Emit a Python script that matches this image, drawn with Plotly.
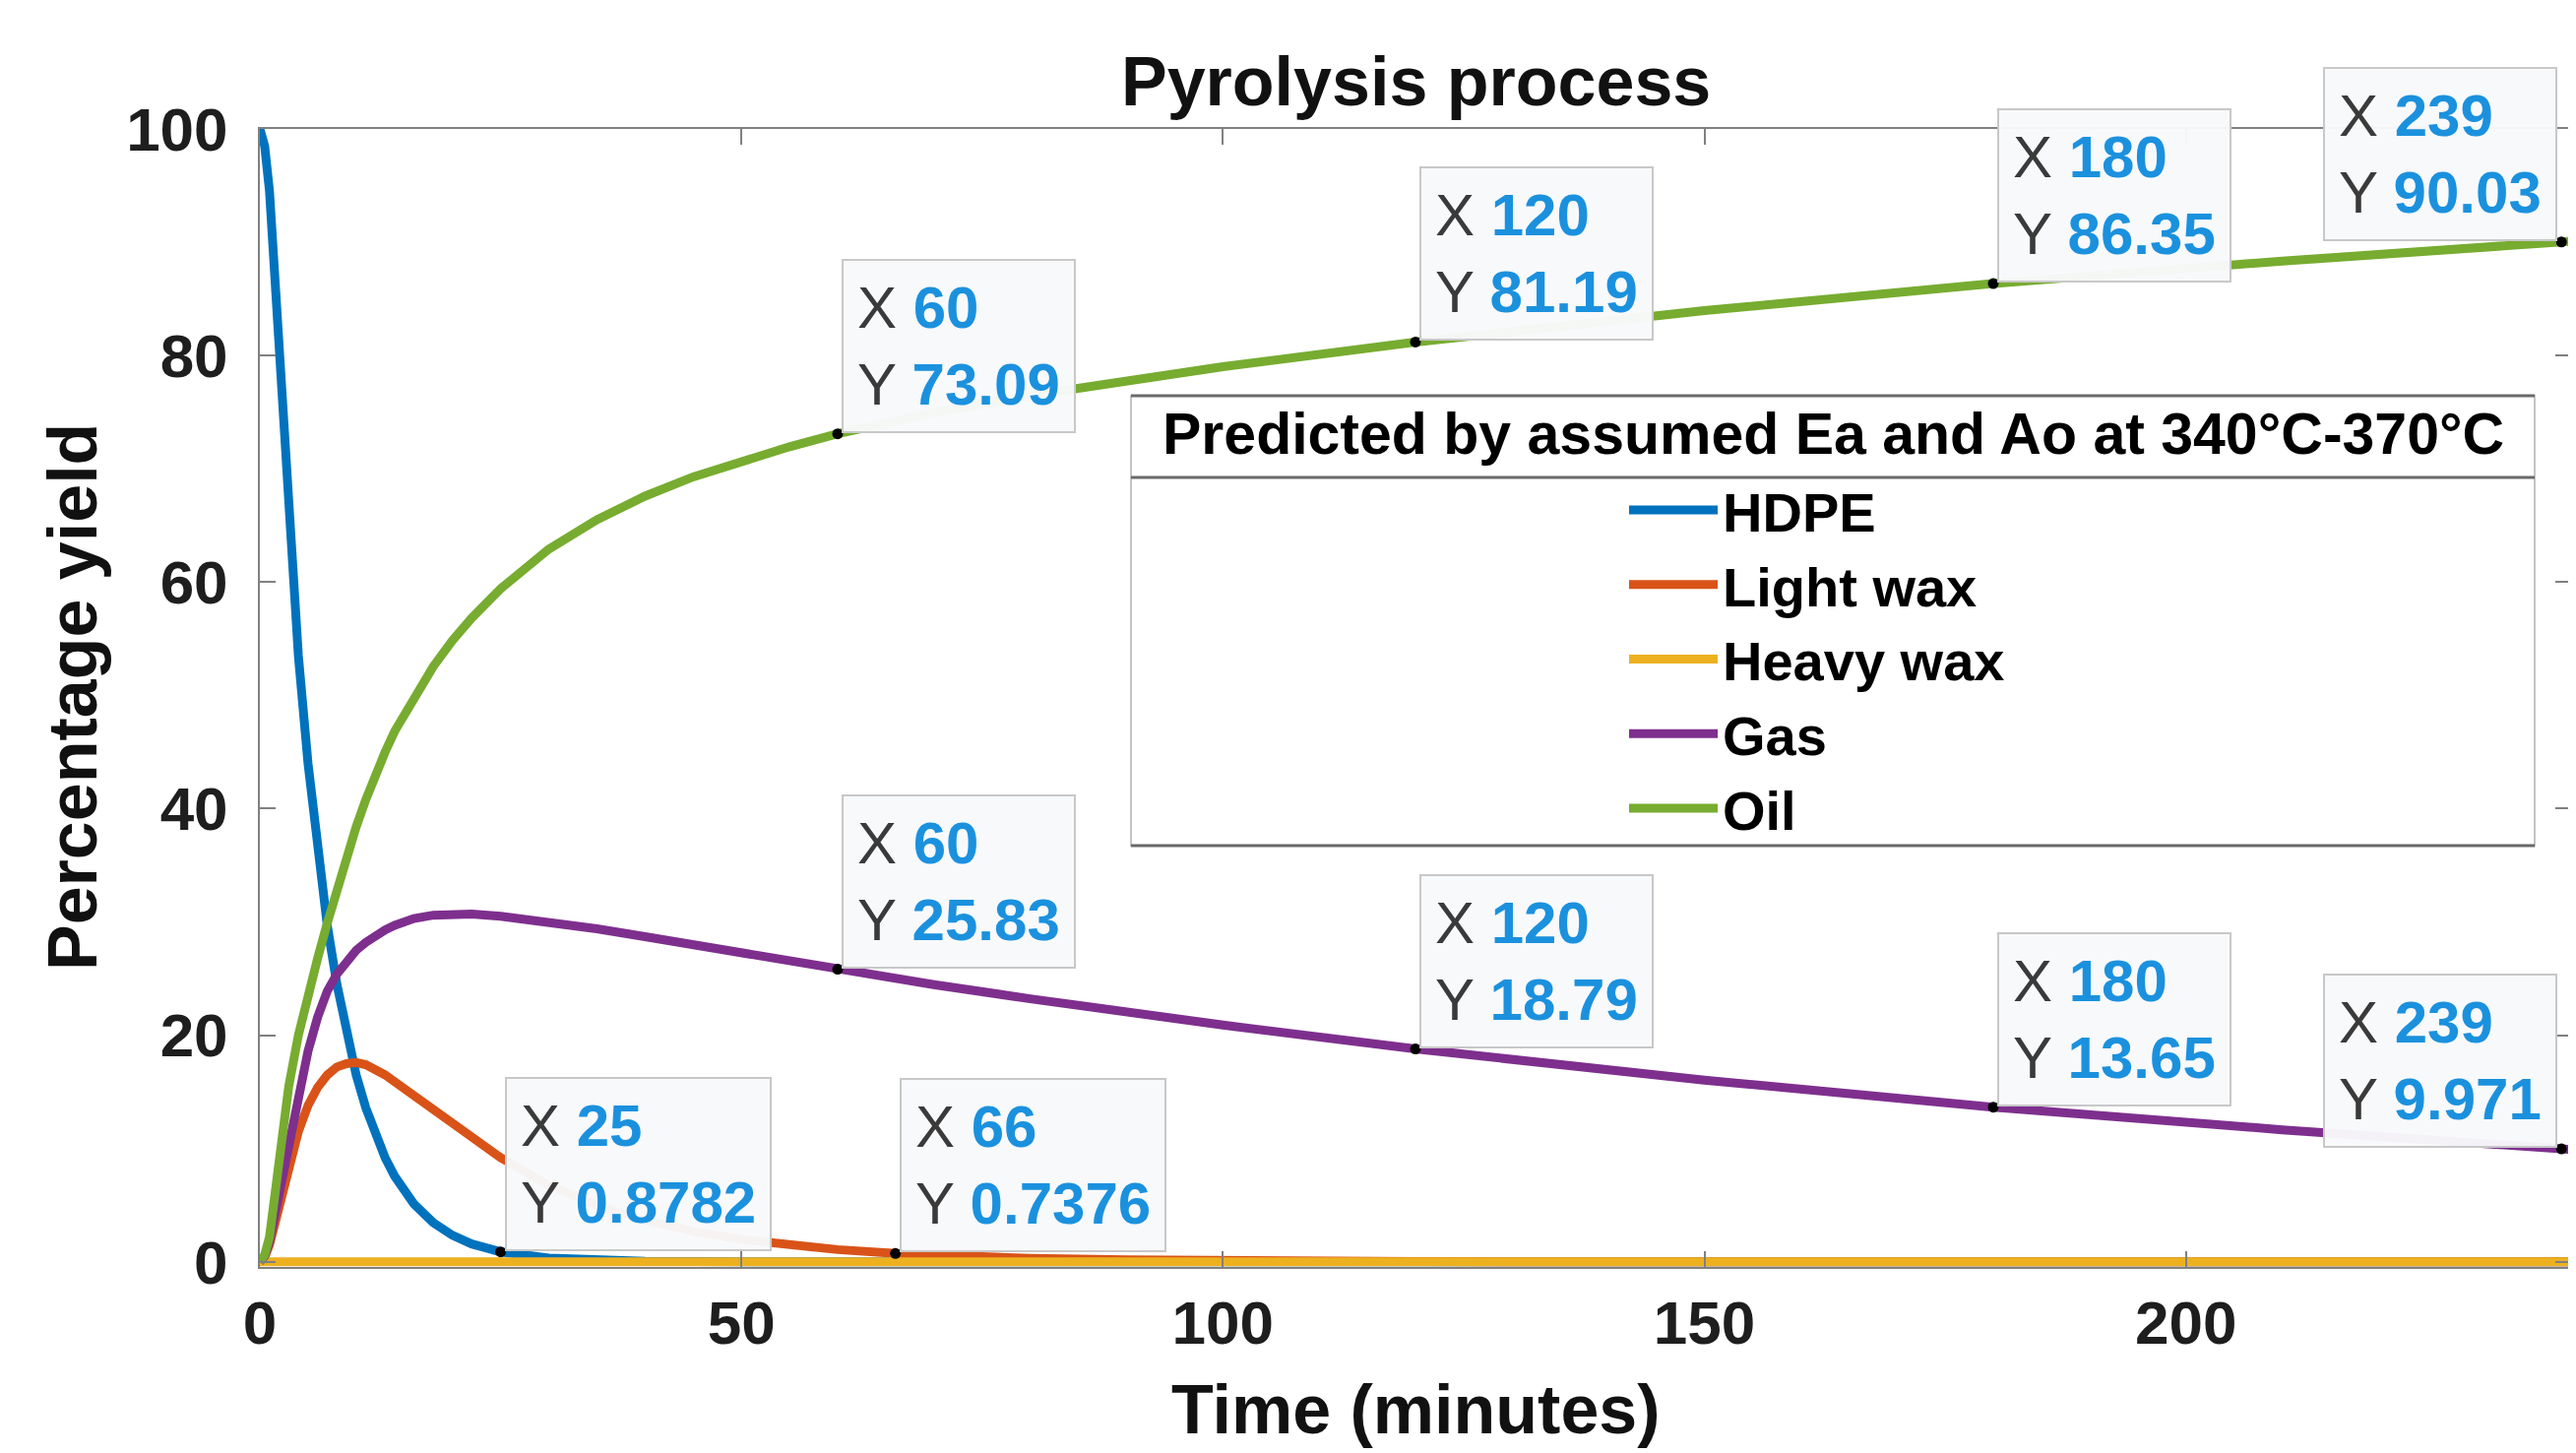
import plotly.graph_objects as go

# ---------------- data ----------------
time_min = [0, 0.5, 1, 1.5, 2, 3, 4, 5, 6, 7, 8, 9, 10, 11, 12, 13, 14, 16, 18, 20, 22, 25,
            30, 35, 40, 45, 50, 55, 60, 66, 70, 80, 90, 100, 120, 150, 180, 210, 239, 240]

hdpe = [100, 98.5, 94.5, 87.5, 79.5, 65.0, 53.5, 44.0, 36.2, 29.7, 24.5, 20.1, 16.5, 13.6,
        11.2, 9.2, 7.56, 5.11, 3.46, 2.34, 1.58, 0.8782,
        0.331, 0.124, 0.047, 0.018, 0.007, 0.003, 0, 0, 0, 0, 0, 0, 0, 0, 0, 0, 0, 0]

light_wax = [0, 0.4, 1.5, 3.2, 5.0, 8.7, 11.5, 13.8, 15.4, 16.5, 17.2, 17.5, 17.6, 17.4,
             17.0, 16.5, 15.9, 14.7, 13.4, 12.1, 10.9, 9.2,
             6.76, 4.98, 3.66, 2.69, 1.98, 1.45, 1.08, 0.7376, 0.578, 0.31, 0.17, 0.091,
             0.02, 0.004, 0.001, 0, 0, 0]

heavy_wax = [0] * len(time_min)

gas = [0, 0.5, 1.8, 3.9, 6.0, 10.8, 15.0, 18.6, 21.6, 23.9, 25.4, 26.6, 27.5, 28.2,
       28.8, 29.3, 29.7, 30.3, 30.6, 30.7, 30.7, 30.5,
       30.0, 29.4, 28.7, 28.0, 27.3, 26.6, 25.83, 24.98, 24.47, 23.22, 22.04, 20.90,
       18.79, 16.04, 13.65, 11.66, 9.971, 9.92]

oil = [0, 0.6, 2.2, 5.4, 9.5, 15.5, 20.0, 23.6, 26.8, 29.9, 32.9, 35.8, 38.4, 40.8,
       43.0, 45.0, 46.84, 49.89, 52.54, 54.86, 56.82, 59.42,
       62.91, 65.50, 67.59, 69.29, 70.71, 71.95, 73.09, 74.28, 74.95, 76.47, 77.79, 79.01,
       81.19, 83.96, 86.35, 88.34, 90.03, 90.08]

series_names = ["HDPE", "Light wax", "Heavy wax", "Gas", "Oil"]
series_values = [hdpe, light_wax, heavy_wax, gas, oil]
series_colors = ["#0072BD", "#D95319", "#EDB120", "#7E2F8E", "#77AC30"]

# data tips: (series, time)
tip_series = ["Oil", "Oil", "Oil", "Oil", "Gas", "Gas", "Gas", "Gas", "HDPE", "Light wax"]
tip_times = [60, 120, 180, 239, 60, 120, 180, 239, 25, 66]

x_ticks = [0, 50, 100, 150, 200]
y_ticks = [0, 20, 40, 60, 80, 100]

chart_title = "Pyrolysis process"
x_title = "Time (minutes)"
y_title = "Percentage yield"
legend_title = "Predicted by assumed Ea and Ao at 340°C-370°C"

# ---------------- layout geometry ----------------
W, H = 2617, 1476
L_PX, R_PX, T_PX, B_PX = 256, 2604, 123, 1279
PW, PH = R_PX - L_PX, B_PX - T_PX


def px_x(px):
    return (px - L_PX) / PW


def px_y(py):
    return (B_PX - py) / PH


FONT = "Liberation Sans, Arial, Helvetica, sans-serif"
AXIS_GRAY = "#808080"

fig = go.Figure()

for name, vals, col in zip(series_names, series_values, series_colors):
    fig.add_trace(go.Scatter(x=time_min, y=vals, mode="lines", name=name,
                             line=dict(color=col, width=9), hoverinfo="skip"))

# data tip markers
lookup = dict(zip(series_names, series_values))
tip_x = []
tip_y = []
for s, t in zip(tip_series, tip_times):
    tip_x.append(t)
    tip_y.append(lookup[s][time_min.index(t)])

fig.add_trace(go.Scatter(x=tip_x, y=tip_y, mode="markers", showlegend=False,
                         marker=dict(color="black", size=11), cliponaxis=False,
                         hoverinfo="skip"))

annotations = []
for x, y in zip(tip_x, tip_y):
    txt = ("<span style='color:#3a3a3a'>X </span><b><span style='color:#1b91de'>%s</span></b>"
           "<br><span style='color:#3a3a3a'>Y </span><b><span style='color:#1b91de'>%s</span></b>"
           % (format(x, "g"), format(y, ".4g")))
    right = x >= 230
    annotations.append(dict(
        x=x, y=y, xref="x", yref="y", text=txt, showarrow=False, align="left",
        xanchor="right" if right else "left", yanchor="bottom",
        xshift=-4 if right else 4, yshift=1,
        font=dict(family=FONT, size=60, color="#3a3a3a"),
        bgcolor="rgba(248,249,251,0.97)", bordercolor="#c8c8c8", borderwidth=2,
        borderpad=14))

# titles
annotations.append(dict(text="<b>%s</b>" % chart_title, x=0.5, y=px_y(75), xref="paper",
                        yref="paper", showarrow=False, xanchor="center", yanchor="middle",
                        font=dict(family=FONT, size=70, color="#111111")))
annotations.append(dict(text="<b>%s</b>" % x_title, x=0.5, y=px_y(1424), xref="paper",
                        yref="paper", showarrow=False, xanchor="center", yanchor="middle",
                        font=dict(family=FONT, size=70, color="#111111")))
annotations.append(dict(text="<b>%s</b>" % y_title, x=px_x(66), y=px_y(700), xref="paper",
                        yref="paper", showarrow=False, xanchor="center", yanchor="middle",
                        textangle=-90, font=dict(family=FONT, size=70, color="#111111")))

# legend box + title
LX0, LX1, LY0, LY1, LSEP = 1141, 2567, 394, 851, 477
annotations.append(dict(text="<b>%s</b>" % legend_title, x=px_x((LX0 + LX1) / 2),
                        y=px_y(433), xref="paper", yref="paper", showarrow=False,
                        xanchor="center", yanchor="middle",
                        font=dict(family=FONT, size=59, color="#000000")))

shapes = [
    dict(type="rect", xref="paper", yref="paper", x0=px_x(LX0), x1=px_x(LX1),
         y0=px_y(LY1), y1=px_y(LY0), fillcolor="white", line=dict(color="#c4c4c4", width=2),
         layer="above"),
    dict(type="line", xref="paper", yref="paper", x0=px_x(LX0), x1=px_x(LX1),
         y0=px_y(LY0), y1=px_y(LY0), line=dict(color="#6a6a6a", width=3), layer="above"),
    dict(type="line", xref="paper", yref="paper", x0=px_x(LX0), x1=px_x(LX1),
         y0=px_y(LY1), y1=px_y(LY1), line=dict(color="#6a6a6a", width=3), layer="above"),
    dict(type="line", xref="paper", yref="paper", x0=px_x(LX0), x1=px_x(LX1),
         y0=px_y(LSEP), y1=px_y(LSEP), line=dict(color="#6a6a6a", width=3), layer="above"),
]

axis_common = dict(showline=True, linecolor=AXIS_GRAY, linewidth=2, mirror="allticks",
                   ticks="inside", ticklen=16, tickwidth=2, tickcolor=AXIS_GRAY,
                   showgrid=False, zeroline=False,
                   tickfont=dict(family=FONT, size=62, color="#1e1e1e", weight="bold"))

fig.update_layout(
    width=W, height=H,
    margin=dict(l=L_PX, r=W - R_PX, t=T_PX, b=H - B_PX, autoexpand=False),
    paper_bgcolor="white", plot_bgcolor="white",
    xaxis=dict(range=[0, 240], tickvals=x_ticks, ticklabelstandoff=2, **axis_common),
    yaxis=dict(range=[-0.45, 100], tickvals=y_ticks, ticklabelstandoff=18, **axis_common),
    showlegend=True,
    legend=dict(x=px_x(1642), y=px_y(467), xanchor="left", yanchor="top",
                bgcolor="rgba(0,0,0,0)", borderwidth=0, itemwidth=90,
                tracegroupgap=0,
                font=dict(family=FONT, size=56, color="#000000", weight="bold")),
    annotations=annotations,
    shapes=shapes,
)

fig.write_html("out.html")
